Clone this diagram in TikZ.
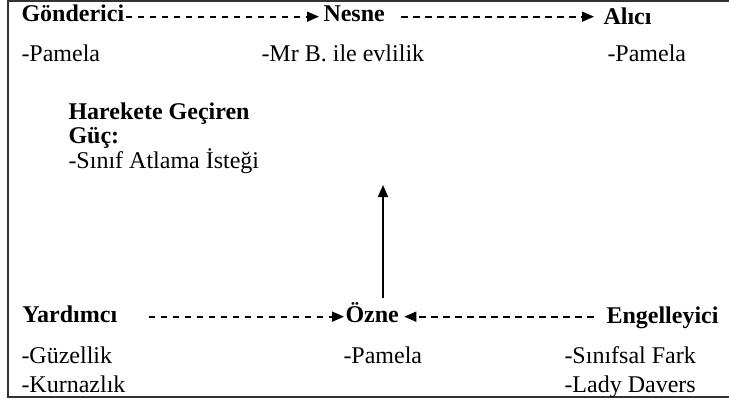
\documentclass[tikz,border=0pt]{standalone}
\usepackage{fontspec}
\setmainfont{Liberation Serif}
\usetikzlibrary{arrows.meta}

\tikzset{every picture/.style={line width=0.75pt}}

\begin{document}
\begin{tikzpicture}[x=0.75pt,y=0.75pt,yscale=-1,xscale=1,
  yazi/.style={anchor=base west,inner sep=0.75pt,text height=12pt,text depth=4pt,font=\fontsize{18}{21}\selectfont},
  baslik/.style={yazi,font=\fontsize{18}{21}\selectfont\bfseries},
  kesikok/.style={line width=1.3pt,dash pattern=on 4.9pt off 4.1pt,-{Triangle[length=9pt,width=7.5pt]}},
  duzok/.style={line width=1.3pt,-{Triangle[length=9pt,width=7.5pt]}}]
\useasboundingbox (0,0) rectangle (729,403);

%Shape: Frame (open on the right)
\draw [line width=1.5pt,color={rgb, 255:red, 50; green, 50; blue, 50 }] (729,1.5) -- (8,1.5) -- (8,397) -- (729,397) ;

% Text Node
\draw (20,22) node (gonderici) [baslik] {Gönderici};
% Text Node
\draw (322,22) node (nesne) [baslik] {Nesne};
% Text Node
\draw (602,25) node (alici) [baslik] {Alıcı};
% Text Node
\draw (20,62) node (pamelaA) [yazi] {-Pamela};
% Text Node
\draw (260,62) node (evlilik) [yazi] {-Mr B. ile evlilik};
% Text Node
\draw (606,62) node (pamelaB) [yazi] {-Pamela};
% Text Node
\draw (67,119) node (guc1) [baslik] {Harekete Geçiren};
% Text Node
\draw (67,144) node (guc2) [baslik] {Güç:};
% Text Node
\draw (67,169) node (guc3) [yazi] {-Sınıf Atlama İsteği};
% Text Node
\draw (21,322) node (yardimci) [baslik] {Yardımcı};
% Text Node
\draw (344,322) node (ozne) [baslik] {Özne};
% Text Node
\draw (605,323) node (engel) [baslik] {Engelleyici};
% Text Node
\draw (20,363) node (guzel) [yazi] {-Güzellik};
% Text Node
\draw (20,392) node (kurnaz) [yazi] {-Kurnazlık};
% Text Node
\draw (342,363) node (pamelaC) [yazi] {-Pamela};
% Text Node
\draw (563,363) node (sinif) [yazi] {-Sınıfsal Fark};
% Text Node
\draw (563,392) node (lady) [yazi] {-Lady Davers};

\coordinate (ust) at (383,185);

%Straight Lines (dashed arrows)
\draw [kesikok,shorten >=2.25pt] (gonderici.east) -- (gonderici.east -| nesne.west) ;
\draw [kesikok,shorten <=11pt,shorten >=6pt] (nesne.east) -- (nesne.east -| alici.west) ;
\draw [kesikok,shorten <=22.5pt] (yardimci.east) -- (yardimci.east -| ozne.west) ;
\draw [kesikok,shorten <=8.25pt,shorten >=3pt] (engel.west |- ozne.east) -- (ozne.east) ;
%Straight Lines (up arrow)
\draw [duzok,shorten <=5.25pt] (ozne.north -| ust) -- (ust) ;

\end{tikzpicture}
\end{document}
